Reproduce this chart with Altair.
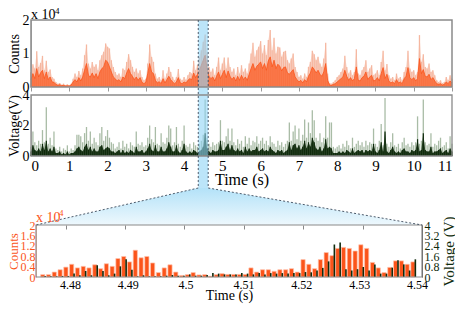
import altair as alt
import numpy as np
import pandas as pd

FONT = "Liberation Serif, Times New Roman, serif"
ORANGE = "#fb541a"
ORANGE_LIGHT = "#f5b7a0"
GREEN = "#0f2a0c"
GREEN_LIGHT = "#a9bca6"
GRAY = "#8a8a8a"
BLUE = "#8fd4f5"

# ---- overview: counts (x 1e4), sampled every 0.05 s ----
counts_peak = [
    0.45, 0.68, 0.55, 1.07, 0.60, 0.72, 0.93, 0.50, 0.78, 0.45, 0.52, 0.30, 0.25, 0.15, 0.10, 0.12, 0.07, 0.10, 0.06, 0.08,
    0.05, 0.10, 0.25, 0.40, 0.30, 0.48, 0.35, 0.55, 0.95, 1.27, 0.70, 0.55, 0.75, 0.60, 0.68, 0.50, 0.80, 0.95, 1.05, 1.30,
    1.20, 1.15, 0.80, 0.60, 0.45, 0.35, 0.40, 0.30, 0.55, 0.50, 0.75, 0.98, 0.80, 0.60, 0.45, 0.55, 0.40, 0.50, 0.30, 0.20,
    0.25, 0.70, 1.27, 0.90, 0.75, 0.40, 0.25, 0.30, 0.20, 0.50, 0.25, 0.40, 0.60, 0.45, 0.30, 0.20, 0.30, 0.54, 0.25, 0.20,
    0.30, 0.22, 0.35, 0.45, 0.40, 0.78, 0.50, 0.65, 0.90, 1.10, 1.35, 1.57, 1.00, 0.60, 0.45, 0.55, 0.35, 0.60, 0.88, 0.50,
    0.70, 0.88, 0.55, 0.88, 0.60, 0.45, 0.55, 0.35, 0.60, 0.40, 0.65, 0.45, 0.55, 0.40, 0.70, 1.00, 1.32, 0.90, 1.10, 1.20,
    1.37, 1.00, 1.25, 0.95, 1.40, 1.70, 1.10, 1.47, 1.00, 1.20, 1.18, 0.90, 1.05, 1.08, 0.80, 0.70, 0.85, 1.00, 0.60, 0.45,
    0.30, 0.35, 0.25, 0.40, 0.30, 0.60, 0.75, 1.08, 0.98, 0.80, 0.90, 0.70, 0.60, 0.85, 1.32, 0.40, 0.12, 0.10, 0.15, 0.20,
    0.30, 0.35, 0.45, 0.55, 0.93, 0.60, 0.40, 0.50, 0.35, 0.45, 1.13, 0.40, 0.35, 0.50, 0.60, 0.80, 0.45, 0.55, 0.65, 0.35,
    0.40, 0.50, 0.35, 0.75, 1.08, 0.50, 0.69, 0.35, 0.25, 0.30, 0.20, 0.40, 0.25, 0.30, 0.20, 0.45, 0.60, 1.08, 0.55, 0.45,
    0.50, 0.35, 0.45, 1.55, 0.75, 0.98, 0.60, 0.55, 0.70, 0.45, 0.50, 0.35, 0.20, 0.15, 0.20, 0.12, 0.15, 0.30, 0.20, 0.35,
    0.25,
]
# counts, typical level (dark trace), every 0.05 s
counts_mean = [
    0.22, 0.40, 0.25, 0.55, 0.30, 0.42, 0.50, 0.25, 0.45, 0.22, 0.30, 0.15, 0.14, 0.08, 0.05, 0.07, 0.04, 0.05, 0.03, 0.04,
    0.03, 0.06, 0.15, 0.22, 0.15, 0.28, 0.18, 0.30, 0.50, 0.70, 0.35, 0.30, 0.42, 0.28, 0.40, 0.25, 0.45, 0.55, 0.60, 0.80,
    0.75, 0.60, 0.45, 0.30, 0.25, 0.18, 0.22, 0.15, 0.30, 0.25, 0.42, 0.55, 0.40, 0.32, 0.22, 0.30, 0.20, 0.28, 0.14, 0.10,
    0.14, 0.40, 0.70, 0.45, 0.40, 0.20, 0.12, 0.16, 0.10, 0.25, 0.12, 0.22, 0.32, 0.22, 0.15, 0.10, 0.15, 0.28, 0.12, 0.10,
    0.15, 0.12, 0.20, 0.25, 0.22, 0.42, 0.28, 0.38, 0.50, 0.65, 0.80, 0.95, 0.55, 0.32, 0.25, 0.30, 0.18, 0.32, 0.45, 0.25,
    0.38, 0.50, 0.28, 0.48, 0.32, 0.22, 0.30, 0.18, 0.32, 0.20, 0.35, 0.22, 0.30, 0.20, 0.38, 0.55, 0.70, 0.50, 0.62, 0.68,
    0.75, 0.55, 0.70, 0.50, 0.78, 0.90, 0.60, 0.80, 0.55, 0.68, 0.62, 0.48, 0.58, 0.60, 0.42, 0.38, 0.45, 0.52, 0.30, 0.22,
    0.15, 0.20, 0.12, 0.22, 0.15, 0.32, 0.42, 0.60, 0.52, 0.42, 0.50, 0.38, 0.32, 0.45, 0.70, 0.20, 0.06, 0.05, 0.08, 0.10,
    0.15, 0.20, 0.25, 0.30, 0.50, 0.32, 0.20, 0.28, 0.18, 0.25, 0.60, 0.20, 0.18, 0.28, 0.32, 0.45, 0.22, 0.30, 0.35, 0.18,
    0.20, 0.28, 0.18, 0.40, 0.58, 0.25, 0.38, 0.18, 0.12, 0.15, 0.10, 0.22, 0.12, 0.15, 0.10, 0.25, 0.32, 0.58, 0.28, 0.22,
    0.28, 0.18, 0.25, 0.85, 0.40, 0.52, 0.32, 0.30, 0.38, 0.22, 0.28, 0.18, 0.10, 0.08, 0.10, 0.06, 0.08, 0.15, 0.10, 0.18,
    0.12,
]
# ---- overview: voltage (V), every 0.05 s ----
volt_peak = [
    0.6, 1.6, 0.9, 0.7, 1.0, 0.8, 1.7, 0.9, 3.2, 0.8, 1.2, 0.7, 1.6, 0.5, 0.4, 0.6, 0.3, 0.5, 0.4, 0.7,
    0.3, 0.5, 0.4, 0.7, 1.4, 1.4, 1.3, 0.9, 1.5, 1.9, 1.0, 1.6, 0.8, 1.2, 0.9, 0.7, 1.5, 1.9, 1.0, 1.3,
    1.7, 1.2, 0.9, 0.8, 0.5, 0.6, 0.9, 0.5, 1.0, 0.6, 0.8, 0.5, 0.9, 0.7, 0.6, 1.6, 0.8, 0.7, 0.9, 0.6,
    0.7, 1.2, 2.0, 1.1, 0.9, 1.9, 0.8, 0.7, 1.5, 0.9, 0.8, 1.2, 2.0, 1.8, 0.7, 0.9, 1.9, 0.8, 0.6, 1.0,
    2.0, 0.7, 0.6, 0.8, 0.5, 0.9, 0.7, 0.6, 0.8, 1.0, 1.4, 3.7, 1.2, 0.8, 0.6, 0.9, 0.7, 0.8, 0.9, 2.35,
    1.0, 0.9, 1.3, 1.8, 1.0, 1.8, 0.9, 0.7, 1.1, 0.8, 1.0, 0.6, 1.3, 0.8, 1.2, 0.7, 1.0, 0.9, 1.3, 0.8,
    1.0, 1.2, 0.8, 1.0, 0.7, 1.3, 0.9, 0.8, 0.6, 1.0, 0.7, 0.9, 0.6, 0.8, 1.0, 2.2, 1.0, 1.6, 2.0, 1.1,
    1.8, 1.0, 1.4, 2.4, 1.2, 2.2, 1.5, 3.0, 2.35, 1.2, 1.0, 1.5, 0.9, 1.2, 2.6, 1.2, 2.2, 2.2, 0.6, 0.5,
    0.6, 0.7, 0.5, 0.8, 0.6, 1.0, 0.7, 0.5, 1.2, 0.6, 0.8, 1.0, 0.7, 0.9, 0.6, 1.0, 0.7, 0.9, 0.8, 1.8,
    0.8, 0.6, 1.0, 2.1, 0.7, 3.8, 0.8, 0.6, 0.9, 1.5, 0.7, 0.6, 0.8, 0.5, 0.9, 1.2, 0.7, 0.8, 0.6, 0.9,
    0.7, 0.9, 2.6, 0.8, 1.0, 3.7, 0.9, 0.7, 0.8, 1.5, 0.6, 0.8, 0.7, 1.0, 1.2, 0.6, 0.7, 0.9, 0.5, 1.3,
    0.8,
]
volt_mean = [
    0.3, 0.7, 0.4, 0.3, 0.5, 0.3, 0.8, 0.4, 1.0, 0.3, 0.5, 0.3, 0.6, 0.2, 0.2, 0.3, 0.1, 0.2, 0.1, 0.3,
    0.1, 0.2, 0.2, 0.3, 0.5, 0.6, 0.4, 0.3, 0.6, 0.8, 0.4, 0.6, 0.3, 0.5, 0.3, 0.3, 0.6, 0.7, 0.4, 0.5,
    0.6, 0.5, 0.3, 0.3, 0.2, 0.3, 0.4, 0.2, 0.4, 0.2, 0.3, 0.2, 0.4, 0.3, 0.2, 0.6, 0.3, 0.3, 0.4, 0.2,
    0.3, 0.5, 0.8, 0.4, 0.3, 0.7, 0.3, 0.3, 0.6, 0.3, 0.3, 0.5, 0.9, 0.6, 0.3, 0.3, 0.7, 0.3, 0.2, 0.4,
    0.8, 0.3, 0.2, 0.3, 0.2, 0.4, 0.3, 0.2, 0.3, 0.4, 0.6, 1.5, 0.5, 0.3, 0.2, 0.4, 0.3, 0.3, 0.4, 1.0,
    0.4, 0.4, 0.6, 0.8, 0.4, 0.7, 0.4, 0.3, 0.5, 0.3, 0.4, 0.2, 0.6, 0.3, 0.5, 0.3, 0.4, 0.4, 0.6, 0.3,
    0.4, 0.5, 0.3, 0.4, 0.3, 0.6, 0.4, 0.3, 0.2, 0.4, 0.3, 0.4, 0.2, 0.3, 0.4, 0.9, 0.4, 0.7, 0.8, 0.5,
    0.7, 0.4, 0.6, 1.0, 0.5, 0.9, 0.6, 1.2, 0.9, 0.5, 0.4, 0.6, 0.3, 0.5, 1.1, 0.5, 0.6, 0.5, 0.2, 0.2,
    0.2, 0.3, 0.2, 0.3, 0.2, 0.4, 0.3, 0.2, 0.5, 0.2, 0.3, 0.4, 0.3, 0.4, 0.2, 0.4, 0.3, 0.4, 0.3, 0.8,
    0.3, 0.2, 0.4, 0.9, 0.3, 1.6, 0.3, 0.2, 0.4, 0.6, 0.3, 0.2, 0.3, 0.2, 0.4, 0.5, 0.3, 0.3, 0.2, 0.4,
    0.3, 0.4, 1.1, 0.3, 0.4, 1.5, 0.4, 0.3, 0.3, 0.6, 0.2, 0.3, 0.3, 0.4, 0.5, 0.2, 0.3, 0.4, 0.2, 0.5,
    0.3,
]
# ---- zoom 4.475-4.54 s, 1 ms bins ----
zoom_counts = [
    0.09, 0.09, 0.19, 0.28, 0.38, 0.49, 0.35, 0.41, 0.35, 0.47, 0.32, 0.51, 0.41, 0.71, 0.79, 0.58, 1.03, 0.74, 0.79, 0.54, 0.17,
    0.35, 0.47, 0.19, 0.06, 0.09, 0.17, 0.08, 0.09, 0.03, 0.09, 0.13, 0.10, 0.10, 0.10, 0.10, 0.35, 0.19, 0.28, 0.28, 0.22,
    0.28, 0.28, 0.32, 0.19, 0.67,
    0.49, 0.32, 0.67, 0.94, 0.82, 1.10, 1.14, 1.10, 1.00, 1.24, 1.10, 0.56, 0.35, 0.17, 0.37, 0.62, 0.62, 0.49, 0.58,
]
zoom_volts = [
    0.08, 0.05, 0.05, 0.08, 0.08, 0.26, 0.13, 0.46, 0.13, 0.90, 0.46, 0.13, 0.26, 0.82, 1.36, 0.56, 0.05, 0.13, 0.05, 0.05, 0.05,
    0.10, 0.15, 0.10, 0.10, 0.20, 0.10, 0.10, 0.15, 0.30, 0.26, 0.20, 0.20, 0.20, 0.30, 0.26, 0.20, 0.30, 0.20, 0.30, 0.26,
    0.30, 0.26, 0.30, 0.30, 0.38,
    0.36, 0.50, 0.70, 1.20, 2.50, 2.65, 0.60, 0.50, 0.60, 0.77, 0.50, 0.97, 0.26, 0.26, 0.72, 1.28, 0.97, 0.50, 1.36,
]
top_ticks = list(range(12))
zoom_ticks = [4.48, 4.49, 4.5, 4.51, 4.52, 4.53, 4.54]
zoom_count_ticks = [0, 0.4, 0.8, 1.2, 1.6, 2]
zoom_volt_ticks = [0, 0.8, 1.6, 2.4, 3.2, 4]
band = (4.37, 4.63)

t_fine = np.round(np.arange(len(counts_peak)) * 0.05, 2)
t_zoom = np.round(4.4753 + np.arange(len(zoom_counts)) * 0.001, 4)

fine = pd.DataFrame({"t": t_fine, "c": counts_peak, "cm": counts_mean, "v": volt_peak, "vm": volt_mean})
zoom = pd.DataFrame({"t": t_zoom, "c": zoom_counts, "v": zoom_volts})

W, H = 421, 258
XT_DOM, XT_RNG = [0, 11], [0, W]
XB_DOM, XB_RNG = [4.475, 4.54], [5, 391]
YC_RNG, YV_RNG, YB_RNG = [68, 1], [137, 76], [258, 206]
X_TOP = alt.Scale(domain=XT_DOM, range=XT_RNG)
Y_CNT = alt.Scale(domain=[0, 2], range=YC_RNG)
Y_VOL = alt.Scale(domain=[0, 4], range=YV_RNG)
X_BOT = alt.Scale(domain=XB_DOM, range=XB_RNG)
Y_BOT = alt.Scale(domain=[0, 2], range=YB_RNG)
Y_BOTV = alt.Scale(domain=[0, 4], range=YB_RNG)


def inv(dom, rng, px):
    return dom[0] + (px - rng[0]) * (dom[1] - dom[0]) / (rng[1] - rng[0])


# connector geometry expressed in the top-x and zoom-count scales
zl = inv(XT_DOM, XT_RNG, XB_RNG[0])
zr = inv(XT_DOM, XT_RNG, XB_RNG[1])
band_top = inv([0, 2], YB_RNG, YC_RNG[1])
band_bot = inv([0, 2], YB_RNG, YV_RNG[0] + 32)


def X(field, scale, axis=None):
    return alt.X(field, type="quantitative", scale=scale, axis=axis)


def Y(field, scale, axis=None):
    return alt.Y(field, type="quantitative", scale=scale, axis=axis)


lbl = "toString(datum.value)"

cnt_peak_area = alt.Chart(fine).mark_area(color=ORANGE_LIGHT, opacity=0.55).encode(
    x=X("t", X_TOP),
    y=Y("c", Y_CNT, alt.Axis(orient="left", values=[0, 1, 2], labelExpr=lbl, title="Counts", ticks=False,
                              domainColor="#bbbbbb", labelFontSize=14, titleFontSize=14, titlePadding=1,
                              labelPadding=2, labelOverlap=False)),
)
cnt_peak = alt.Chart(fine).mark_rule(color=ORANGE_LIGHT, strokeWidth=1.3).encode(
    x=X("t", X_TOP), y=Y("c", Y_CNT), y2=alt.datum(0))
cnt_mean = alt.Chart(fine).mark_area(color=ORANGE, line={"color": ORANGE, "strokeWidth": 0.8}).encode(
    x=X("t", X_TOP), y=Y("cm", Y_CNT))
vol_peak = alt.Chart(fine).mark_rule(color=GREEN_LIGHT, strokeWidth=1.3).encode(
    x=X("t", X_TOP),
    y=Y("v", Y_VOL, alt.Axis(orient="left", values=[0, 2, 4], labelExpr=lbl, title="Voltage(V)", ticks=False,
                              domainColor="#bbbbbb", labelFontSize=14, titleFontSize=14, titlePadding=1,
                              labelPadding=2, labelOverlap=False)),
    y2=alt.datum(0),
)
vol_mean_area = alt.Chart(fine).mark_area(color=GREEN, opacity=0.85).encode(x=X("t", X_TOP), y=Y("vm", Y_VOL))
vol_mean = alt.Chart(fine).mark_rule(color=GREEN, strokeWidth=1.2).encode(
    x=X("t", X_TOP), y=Y("vm", Y_VOL), y2=alt.datum(0))

box_top = pd.DataFrame({"x0": [0], "x1": [11], "y0": [0], "y1": [2]})
cnt_box = alt.Chart(box_top).mark_rect(fillOpacity=0, stroke=GRAY, strokeWidth=1.5).encode(
    x=X("x0", X_TOP, alt.Axis(orient="bottom", offset=YC_RNG[0] - H, values=top_ticks, labels=False,
                               domain=False, tickSize=4, tickColor="#999999", title=None)),
    x2="x1", y=Y("y0", Y_CNT), y2="y1")
box_vol = pd.DataFrame({"x0": [0], "x1": [11], "y0": [0], "y1": [4]})
vol_box = alt.Chart(box_vol).mark_rect(fillOpacity=0, stroke=GRAY, strokeWidth=1.3).encode(
    x=X("x0", X_TOP, alt.Axis(orient="bottom", offset=YV_RNG[0] - H, values=top_ticks, labelExpr=lbl,
                               domain=False, ticks=False, labelFontSize=15, labelPadding=2,
                               title="Time (s)", titleFontSize=16, titlePadding=-2)),
    x2="x1", y=Y("y0", Y_VOL), y2="y1")

# connector
trap = pd.DataFrame({"y": [band_bot, 2], "xl": [band[0], zl], "xr": [band[1], zr]})
grad = alt.Gradient(gradient="linear", x1=0, x2=0, y1=0, y2=1,
                    stops=[alt.GradientStop(color="#b3e2f8", offset=0),
                           alt.GradientStop(color="#eef8fd", offset=1)])
trap_area = alt.Chart(trap).mark_area(orient="horizontal", fill=grad).encode(
    y=Y("y", Y_BOT), x=X("xl", X_TOP), x2="xr")
band_df = pd.DataFrame({"x0": [band[0]], "x1": [band[1]], "y0": [band_bot], "y1": [band_top]})
band_rect = alt.Chart(band_df).mark_rect(fill=BLUE, opacity=0.6).encode(
    x=X("x0", X_TOP), x2="x1", y=Y("y0", Y_BOT), y2="y1")
edges = pd.DataFrame({
    "x0": [band[0], band[1], band[0], band[1]],
    "x1": [band[0], band[1], zl, zr],
    "y0": [band_top, band_top, band_bot, band_bot],
    "y1": [band_bot, band_bot, 2, 2],
})
edge_rules = alt.Chart(edges).mark_rule(color="#3c4a5a", strokeDash=[2, 2], strokeWidth=0.9).encode(
    x=X("x0", X_TOP), x2="x1", y=Y("y0", Y_BOT), y2="y1")

# zoom panel
zbars = alt.Chart(zoom).mark_bar(orient="vertical", width=4.2, color=ORANGE, stroke="#ffc3ae", strokeWidth=0.7).encode(
    x=X("t", X_BOT, alt.Axis(orient="bottom", values=zoom_ticks, labelExpr=lbl, ticks=False, domain=False,
                              labelFontSize=12, labelPadding=2, title="Time (s)", titleFontSize=14,
                              titlePadding=-2)),
    y=Y("c", Y_BOT, alt.Axis(orient="left", offset=-XB_RNG[0], values=zoom_count_ticks, labelExpr=lbl,
                              ticks=False, domainColor="#f7b49c", labelColor=ORANGE, titleColor=ORANGE,
                              title="Counts", labelFontSize=12, titleFontSize=13, titlePadding=0,
                              labelPadding=1, labelOverlap=False)),
)
zvolt = alt.Chart(zoom).mark_bar(orient="vertical", width=1.6, color=GREEN, xOffset=2.4).encode(
    x=X("t", X_BOT),
    y=Y("v", Y_BOTV, alt.Axis(orient="right", offset=XB_RNG[1] - W, values=zoom_volt_ticks, labelExpr=lbl,
                               ticks=False, domainColor="#555555", labelColor=GREEN, titleColor=GREEN,
                               title="Voltage (V)", titleAngle=270, titleBaseline="top", labelFontSize=12,
                               titleFontSize=15, titlePadding=2, labelPadding=2, labelOverlap=False)),
)
box_z = pd.DataFrame({"x0": [XB_DOM[0]], "x1": [XB_DOM[1]], "y0": [0], "y1": [2]})
zbox = alt.Chart(box_z).mark_rect(fillOpacity=0, stroke=GRAY, strokeWidth=1.2).encode(
    x=X("x0", X_BOT, alt.Axis(orient="bottom", offset=YB_RNG[1] - H, values=zoom_ticks, labels=False,
                               domain=False, tickSize=4, tickColor="#888888", title=None)),
    x2="x1", y=Y("y0", Y_BOT), y2="y1")

# multipliers
mul_top = pd.DataFrame({"x": [0], "y": [2]})
t_top = alt.Chart(mul_top).mark_text(text="x 10", align="left", baseline="alphabetic", dy=-1,
                                     font=FONT, fontSize=14, color="black").encode(
    x=X("x", X_TOP), y=Y("y", Y_CNT))
t_top4 = alt.Chart(mul_top).mark_text(text="4", align="left", baseline="alphabetic", dx=24, dy=-6,
                                      font=FONT, fontSize=9, color="black").encode(
    x=X("x", X_TOP), y=Y("y", Y_CNT))
mul_bot = pd.DataFrame({"x": [XB_DOM[0]], "y": [2]})
t_bot = alt.Chart(mul_bot).mark_text(text="x 10", align="left", baseline="alphabetic", dy=-3,
                                     font=FONT, fontSize=14, color=ORANGE).encode(
    x=X("x", X_BOT), y=Y("y", Y_BOT))
t_bot4 = alt.Chart(mul_bot).mark_text(text="4", align="left", baseline="alphabetic", dx=23, dy=-9,
                                      font=FONT, fontSize=9, color=ORANGE).encode(
    x=X("x", X_BOT), y=Y("y", Y_BOT))

chart = alt.layer(
    trap_area, cnt_peak_area, cnt_peak, cnt_mean, vol_peak, vol_mean_area, vol_mean, band_rect, cnt_box, vol_box,
    zbars, zvolt, zbox, edge_rules, t_top, t_top4, t_bot, t_bot4,
).resolve_scale(x="independent", y="independent").resolve_axis(x="independent", y="independent").properties(
    width=W, height=H, autosize="none",
    padding={"left": 23, "top": 11, "right": 3, "bottom": 27},
).configure_view(stroke=None).configure_axis(
    labelFont=FONT, titleFont=FONT, grid=False, titleFontWeight="normal", labelColor="black",
    titleColor="black", labelFontWeight="normal",
)

chart.save("out.html", embed_options={"renderer": "svg", "actions": False})
